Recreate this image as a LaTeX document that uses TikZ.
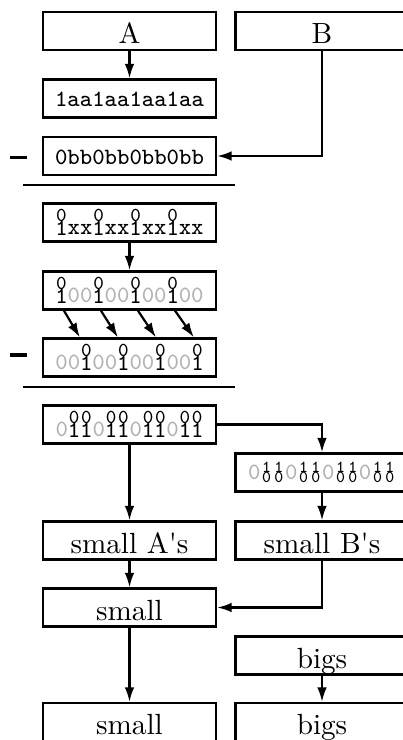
\documentclass[tikz,border=0pt]{standalone}
\usetikzlibrary{arrows.meta,calc}
\usepackage{graphicx}
\definecolor{lgray}{gray}{0.7}
\newcommand\stkup[2]{\makebox[0.525em]{\ooalign{\hfil\raisebox{4.4pt}{\scalebox{0.85}{#1}}\hfil\cr\hfil\raisebox{-0.5pt}{#2}\hfil\cr}}}
\newcommand\stkdn[2]{\makebox[0.525em]{\ooalign{\hfil\raisebox{2.4pt}{\scalebox{0.72}{#1}}\hfil\cr\hfil\raisebox{-0.8pt}{\scalebox{0.72}{#2}}\hfil\cr}}}
\newcommand\gz[1]{\textcolor{lgray}{#1}}
\tikzset{
  box/.style={draw, line width=0.75pt, minimum width=59.25pt, minimum height=13pt, inner sep=0pt},
  rmbox/.style={box, font=\fontsize{10}{12}\selectfont, text height=8.6pt, text depth=0pt},
  ttbox/.style={box, font=\ttfamily\footnotesize, text height=5.6pt, text depth=0pt},
  stbox/.style={box, font=\ttfamily\footnotesize},
  arr/.style={-{Latex[length=5pt,width=3.3pt]}, line width=0.75pt},
  sep/.style={line width=0.75pt},
  minus/.style={inner sep=0pt}
}
\begin{document}
\begin{tikzpicture}[x=0.3425pt, y=-0.3425pt]
\useasboundingbox (0,0) rectangle (403,740);
\clip (0,0) rectangle (403,740);
% top section
\node[rmbox] (A) at (129.5,31) {A};
\node[rmbox] (B) at (322,31) {B};
\node[ttbox] (aa) at (129.5,98.5) {1aa1aa1aa1aa};
\node[ttbox] (bb) at (129.5,156) {0bb0bb0bb0bb};
\node[minus] (m1) at (18.5,157.5) {\rule{5.9pt}{1.3pt}};
\coordinate (l1a) at (23,185);
\coordinate (l1b) at (235,185);
\draw[arr] (A) -- (aa);
\draw[arr] (B.south) |- (bb.east);
\draw[sep] (l1a) -- (l1b);
% middle section
\node[stbox] (xx) at (129.5,222.5) {\stkup01xx\stkup01xx\stkup01xx\stkup01xx};
\node[stbox] (r2) at (129.5,290.5) {\stkup01\gz{00}\stkup01\gz{00}\stkup01\gz{00}\stkup01\gz{00}};
\node[stbox] (r3) at (129.5,357.5) {\gz{00}\stkup01\gz{00}\stkup01\gz{00}\stkup01\gz{00}\stkup01};
\node[minus] (m2) at (18.5,355) {\rule{5.9pt}{1.3pt}};
\coordinate (l2a) at (23,387);
\coordinate (l2b) at (235,387);
\draw[arr] (xx) -- (r2);
\foreach \i in {0,1,2,3}{
  \coordinate (d\i s) at ($(r2.south west)+({22+37*\i},0)$);
  \coordinate (d\i e) at ($(r3.north west)+({38+38*\i},0)$);
  \draw[arr] (d\i s) -- (d\i e);
}
\draw[sep] (l2a) -- (l2b);
% bottom section
\node[stbox] (sb) at (129.5,424.5) {\gz0\stkup01\stkup01\gz0\stkup01\stkup01\gz0\stkup01\stkup01\gz0\stkup01\stkup01};
\node[stbox] (rb) at (322,472.5) {\gz0\stkdn10\stkdn10\gz0\stkdn10\stkdn10\gz0\stkdn10\stkdn10\gz0\stkdn10\stkdn10};
\node[rmbox] (sA) at (129.5,540.5) {small A\textquotesingle s};
\node[rmbox] (sB) at (322,540.5) {small B\textquotesingle s};
\node[rmbox] (sm) at (129.5,607.5) {small};
\node[rmbox] (bg) at (322,655.5) {bigs};
\node[rmbox] (sm2) at (129.5,722) {small};
\node[rmbox] (bg2) at (322,722) {bigs};
\draw[arr] (sb.east) -| (rb.north);
\draw[arr] (sb) -- (sA);
\draw[arr] (rb) -- (sB);
\draw[arr] (sA) -- (sm);
\draw[arr] (sB.south) |- (sm.east);
\draw[arr] (sm) -- (sm2);
\draw[arr] (bg) -- (bg2);
\end{tikzpicture}
\end{document}
